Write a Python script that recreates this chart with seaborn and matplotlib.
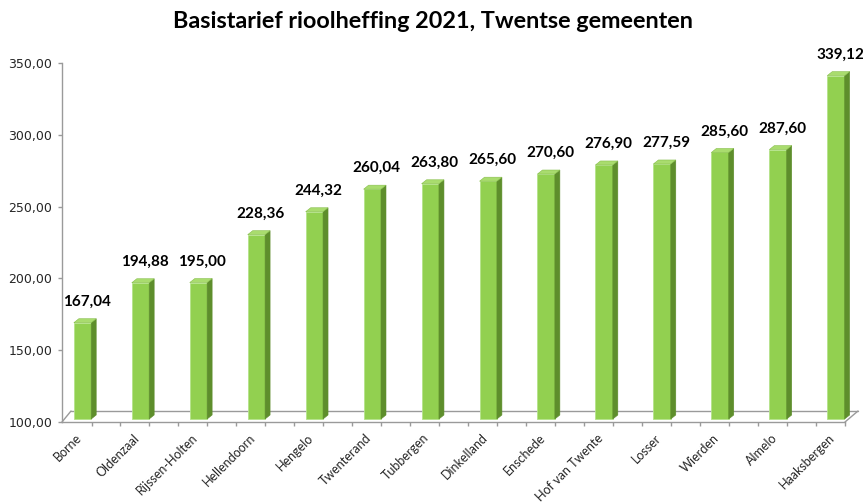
import matplotlib
matplotlib.use("Agg")
import matplotlib.pyplot as plt
import seaborn as sns
import pandas as pd
from matplotlib.patches import Polygon
from matplotlib.lines import Line2D
from matplotlib.transforms import IdentityTransform, offset_copy, ScaledTranslation
from matplotlib.ticker import FuncFormatter, FixedLocator

# ---- data ----
gemeenten = ["Borne", "Oldenzaal", "Rijssen-Holten", "Hellendoorn", "Hengelo",
             "Twenterand", "Tubbergen", "Dinkelland", "Enschede", "Hof van Twente",
             "Losser", "Wierden", "Almelo", "Haaksbergen"]
tarief = [167.04, 194.88, 195.00, 228.36, 244.32, 260.04, 263.80, 265.60,
          270.60, 276.90, 277.59, 285.60, 287.60, 339.12]
y_ticks = [100, 150, 200, 250, 300, 350]
title = "Basistarief rioolheffing 2021, Twentse gemeenten"

df = pd.DataFrame({"gemeente": gemeenten, "tarief": tarief})

sns.set_theme(style="white")
plt.rcParams["font.family"] = ["DejaVu Sans"]

W, H = 863, 503
fig = plt.figure(figsize=(W / 100, H / 100), dpi=100)
fig.patch.set_facecolor("white")
ax = fig.add_axes([62 / W, (H - 422) / H, (845 - 62) / W, (422 - 63) / H])
ax.patch.set_alpha(0)

FRONT = "#92D050"
SIDE = "#5E8E2C"
TOP = "#A9DC6E"
GRAY = "#9A9A9A"

sns.barplot(data=df, x="gemeente", y="tarief", color=FRONT, saturation=1,
            width=0.30, ax=ax, zorder=3, edgecolor="#B4E38A", linewidth=0.6)

ax.set_xlim(-0.354, 13.156)
ax.set_ylim(100, 350)
ax.autoscale(False)

shift = offset_copy(ax.transData, fig=fig, x=0, y=3, units="dots")
dx, dy = 5, 4
for p in ax.patches:
    v = p.get_height()
    p.set_y(100)
    p.set_height(v - 100)
    p.set_transform(shift)
    x0, y0 = shift.transform((p.get_x(), 100))
    x1, y1 = shift.transform((p.get_x() + p.get_width(), v))
    side = Polygon([(x1, y0), (x1 + dx, y0 + dy), (x1 + dx, y1 + dy), (x1, y1)],
                   closed=True, facecolor=SIDE, edgecolor=SIDE, linewidth=0.4,
                   transform=IdentityTransform(), zorder=3, clip_on=False)
    top = Polygon([(x0, y1), (x1, y1), (x1 + dx, y1 + dy), (x0 + dx, y1 + dy)],
                  closed=True, facecolor=TOP, edgecolor="#86BE4A", linewidth=0.4,
                  transform=IdentityTransform(), zorder=3, clip_on=False)
    ax.add_patch(side)
    ax.add_patch(top)

# 3D floor
fy, by = H - 422, H - 411
for xs, ys in [([62 + 9, 858], [by, by]), ([62, 62 + 9], [fy, by]), ([845, 858], [fy, by])]:
    ax.add_line(Line2D(xs, ys, color=GRAY, lw=1.0, transform=IdentityTransform(),
                       zorder=1, clip_on=False))

# spines
for s in ["top", "right"]:
    ax.spines[s].set_visible(False)
ax.spines["left"].set_color(GRAY)
ax.spines["bottom"].set_color(GRAY)
ax.spines["left"].set_linewidth(1.0)
ax.spines["bottom"].set_linewidth(1.0)

# y axis
ax.set_yticks(y_ticks)
ax.yaxis.set_major_formatter(FuncFormatter(lambda v, _: f"{v:.2f}".replace(".", ",")))
ax.tick_params(axis="y", direction="out", length=3, width=1, color=GRAY, pad=4,
               labelsize=9, labelcolor="#262626", left=True)

# x axis
ax.xaxis.set_minor_locator(FixedLocator([i + off for i in range(len(gemeenten)) for off in (0.155, 0.655)]))
ax.tick_params(axis="x", which="minor", direction="out", length=3, width=1, color=GRAY, bottom=True)
ax.tick_params(axis="x", which="major", length=0, pad=10, labelsize=9, labelcolor="#262626")
ax.set_xticks(range(len(gemeenten)))
ax.set_xticklabels(gemeenten, rotation=45, ha="right", rotation_mode="anchor", va="center",
                   family=["Lato", "DejaVu Sans"])
for lab in ax.get_xticklabels():
    lab.set_transform(lab.get_transform() + ScaledTranslation(-3 / 100, 0, fig.dpi_scale_trans))
ax.set_xlabel("")
ax.set_ylabel("")

# data labels
for i, v in enumerate(tarief):
    ax.annotate(f"{v:.2f}".replace(".", ","), (i, v), xytext=(4, 20),
                textcoords="offset pixels", ha="center", va="baseline",
                fontsize=11, fontweight="bold", family=["Lato", "DejaVu Sans"],
                color="black", annotation_clip=False, zorder=5)

fig.text(432.5 / W, 1 - 21 / H, title, ha="center", va="center",
         fontsize=16.8, fontweight="bold", family=["Lato", "DejaVu Sans"], color="black")

fig.savefig("out.png", dpi=100)
